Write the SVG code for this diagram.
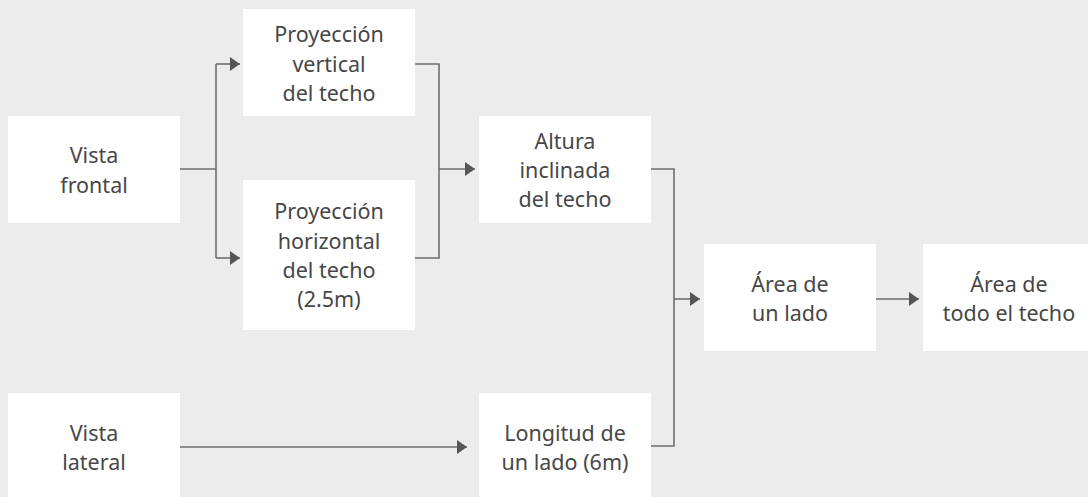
<svg xmlns="http://www.w3.org/2000/svg" width="1088" height="497" viewBox="0 0 1088 497">
  <style>
    .box { fill: #ffffff; }
    .lbl { font-family: "Noto Sans", "Liberation Sans", sans-serif; font-size: 21.5px; fill: #474747; text-anchor: middle; }
    .conn { fill: none; stroke: #6e6e6e; stroke-width: 1.6; }
  </style>
  <defs>
    <marker id="arr" markerUnits="userSpaceOnUse" markerWidth="11" markerHeight="15" refX="10" refY="7" orient="auto">
      <path d="M0,0 L10,7 L0,14 Z" fill="#555555"/>
    </marker>
  </defs>
  <rect x="0" y="0" width="1088" height="497" fill="#ececec"/>

  <g id="connectors">
    <path class="conn" d="M180,169 H216"/>
    <path class="conn" d="M216,64 V258"/>
    <path class="conn" d="M216,64 H240" marker-end="url(#arr)"/>
    <path class="conn" d="M216,258 H240" marker-end="url(#arr)"/>
    <path class="conn" d="M415,64 H439 V258 H415"/>
    <path class="conn" d="M439,169 H475" marker-end="url(#arr)"/>
    <path class="conn" d="M651,169 H674 V446 H651"/>
    <path class="conn" d="M674,299 H700" marker-end="url(#arr)"/>
    <path class="conn" d="M876,299 H919" marker-end="url(#arr)"/>
    <path class="conn" d="M180,447 H467" marker-end="url(#arr)"/>
  </g>

  <g id="vista-frontal">
    <rect class="box" x="8" y="116" width="172" height="107"/>
    <text class="lbl"><tspan x="94" y="163">Vista</tspan><tspan x="94" y="192.5">frontal</tspan></text>
  </g>
  <g id="proyeccion-vertical">
    <rect class="box" x="243" y="9" width="172" height="107"/>
    <text class="lbl"><tspan x="329" y="42">Proyección</tspan><tspan x="329" y="71.5">vertical</tspan><tspan x="329" y="100.5">del techo</tspan></text>
  </g>
  <g id="proyeccion-horizontal">
    <rect class="box" x="243" y="180" width="172" height="150"/>
    <text class="lbl"><tspan x="329" y="219">Proyección</tspan><tspan x="329" y="248.5">horizontal</tspan><tspan x="329" y="278">del techo</tspan><tspan x="329" y="307">(2.5m)</tspan></text>
  </g>
  <g id="altura-inclinada">
    <rect class="box" x="479" y="116" width="172" height="107"/>
    <text class="lbl"><tspan x="565" y="148.5">Altura</tspan><tspan x="565" y="178">inclinada</tspan><tspan x="565" y="207">del techo</tspan></text>
  </g>
  <g id="area-un-lado">
    <rect class="box" x="704" y="244" width="172" height="107"/>
    <text class="lbl"><tspan x="790" y="292">Área de</tspan><tspan x="790" y="320.5">un lado</tspan></text>
  </g>
  <g id="area-todo-techo">
    <rect class="box" x="923" y="244" width="172" height="107"/>
    <text class="lbl"><tspan x="1009" y="292">Área de</tspan><tspan x="1009" y="320.5">todo el techo</tspan></text>
  </g>
  <g id="vista-lateral">
    <rect class="box" x="8" y="393" width="172" height="107"/>
    <text class="lbl"><tspan x="94" y="440.5">Vista</tspan><tspan x="94" y="470">lateral</tspan></text>
  </g>
  <g id="longitud-lado">
    <rect class="box" x="479" y="393" width="172" height="107"/>
    <text class="lbl"><tspan x="565" y="441">Longitud de</tspan><tspan x="565" y="470">un lado (6m)</tspan></text>
  </g>
</svg>
